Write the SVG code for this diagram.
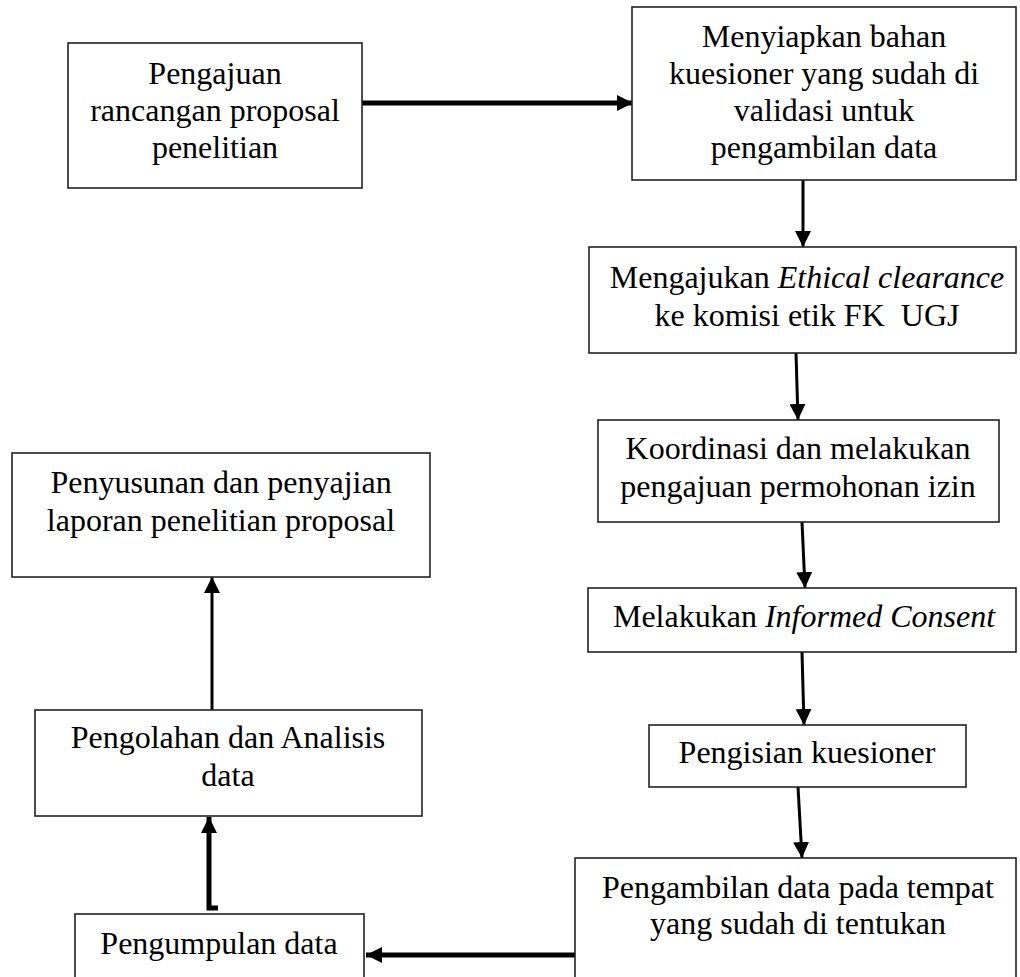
<svg xmlns="http://www.w3.org/2000/svg" width="1020" height="977" viewBox="0 0 1020 977">
<style>
.box{fill:#fff;stroke:#222;stroke-width:1.6}
.t{font-family:"Liberation Serif","Times New Roman",serif;font-size:32px;fill:#000;text-anchor:middle}
.c{fill:none;stroke:#000}
.thin{stroke-width:3}
.thick{stroke-width:5}
</style>
<defs>
<marker id="ah" viewBox="0 0 16 16" refX="16" refY="8" markerWidth="16" markerHeight="16" markerUnits="userSpaceOnUse" orient="auto">
<path d="M0,0 L16,8 L0,16 z" fill="#000"/>
</marker>
</defs>
<rect width="1020" height="977" fill="#fff"/>
<g id="connectors">
<line class="c thick" x1="362" y1="103" x2="633" y2="103" marker-end="url(#ah)"/>
<line class="c thin" x1="803" y1="180" x2="803" y2="247" marker-end="url(#ah)"/>
<line class="c thin" x1="796" y1="353" x2="798" y2="420" marker-end="url(#ah)"/>
<line class="c thin" x1="802" y1="522" x2="805" y2="588" marker-end="url(#ah)"/>
<line class="c thin" x1="802" y1="652" x2="804" y2="725" marker-end="url(#ah)"/>
<line class="c thin" x1="798" y1="787" x2="802" y2="858" marker-end="url(#ah)"/>
<line class="c thick" x1="575" y1="955" x2="366" y2="955" marker-end="url(#ah)"/>
<path class="c thick" d="M218,908 L209,908 L209,817" marker-end="url(#ah)"/>
<line class="c thin" x1="212" y1="710" x2="212" y2="577" marker-end="url(#ah)"/>
</g>
<g id="n1">
<rect class="box" x="68" y="43" width="294" height="145"/>
<text class="t" x="215" y="84">Pengajuan</text>
<text class="t" x="215" y="121">rancangan proposal</text>
<text class="t" x="215" y="158">penelitian</text>
</g>
<g id="n2">
<rect class="box" x="632" y="7" width="384" height="173"/>
<text class="t" x="824" y="47">Menyiapkan bahan</text>
<text class="t" x="824" y="84">kuesioner yang sudah di</text>
<text class="t" x="824" y="121">validasi untuk</text>
<text class="t" x="824" y="158">pengambilan data</text>
</g>
<g id="n3">
<rect class="box" x="589" y="247" width="427" height="106"/>
<text class="t" x="807" y="288">Mengajukan <tspan font-style="italic">Ethical clearance</tspan></text>
<text class="t" x="807" y="326" xml:space="preserve">ke komisi etik FK  UGJ</text>
</g>
<g id="n4">
<rect class="box" x="598" y="420" width="401" height="102"/>
<text class="t" x="798" y="459">Koordinasi dan melakukan</text>
<text class="t" x="798" y="497">pengajuan permohonan izin</text>
</g>
<g id="n5">
<rect class="box" x="588" y="588" width="428" height="64"/>
<text class="t" x="804" y="627">Melakukan <tspan font-style="italic">Informed Consent</tspan></text>
</g>
<g id="n6">
<rect class="box" x="649" y="725" width="317" height="62"/>
<text class="t" x="807" y="763">Pengisian kuesioner</text>
</g>
<g id="n7">
<rect class="box" x="575" y="858" width="441" height="130"/>
<text class="t" x="798" y="898">Pengambilan data pada tempat</text>
<text class="t" x="798" y="934">yang sudah di tentukan</text>
</g>
<g id="n8">
<rect class="box" x="75" y="914" width="289" height="73"/>
<text class="t" x="219" y="954">Pengumpulan data</text>
</g>
<g id="n9">
<rect class="box" x="35" y="710" width="387" height="106"/>
<text class="t" x="228" y="748">Pengolahan dan Analisis</text>
<text class="t" x="228" y="786">data</text>
</g>
<g id="n10">
<rect class="box" x="12" y="453" width="418" height="124"/>
<text class="t" x="221" y="493">Penyusunan dan penyajian</text>
<text class="t" x="221" y="531">laporan penelitian proposal</text>
</g>
</svg>
